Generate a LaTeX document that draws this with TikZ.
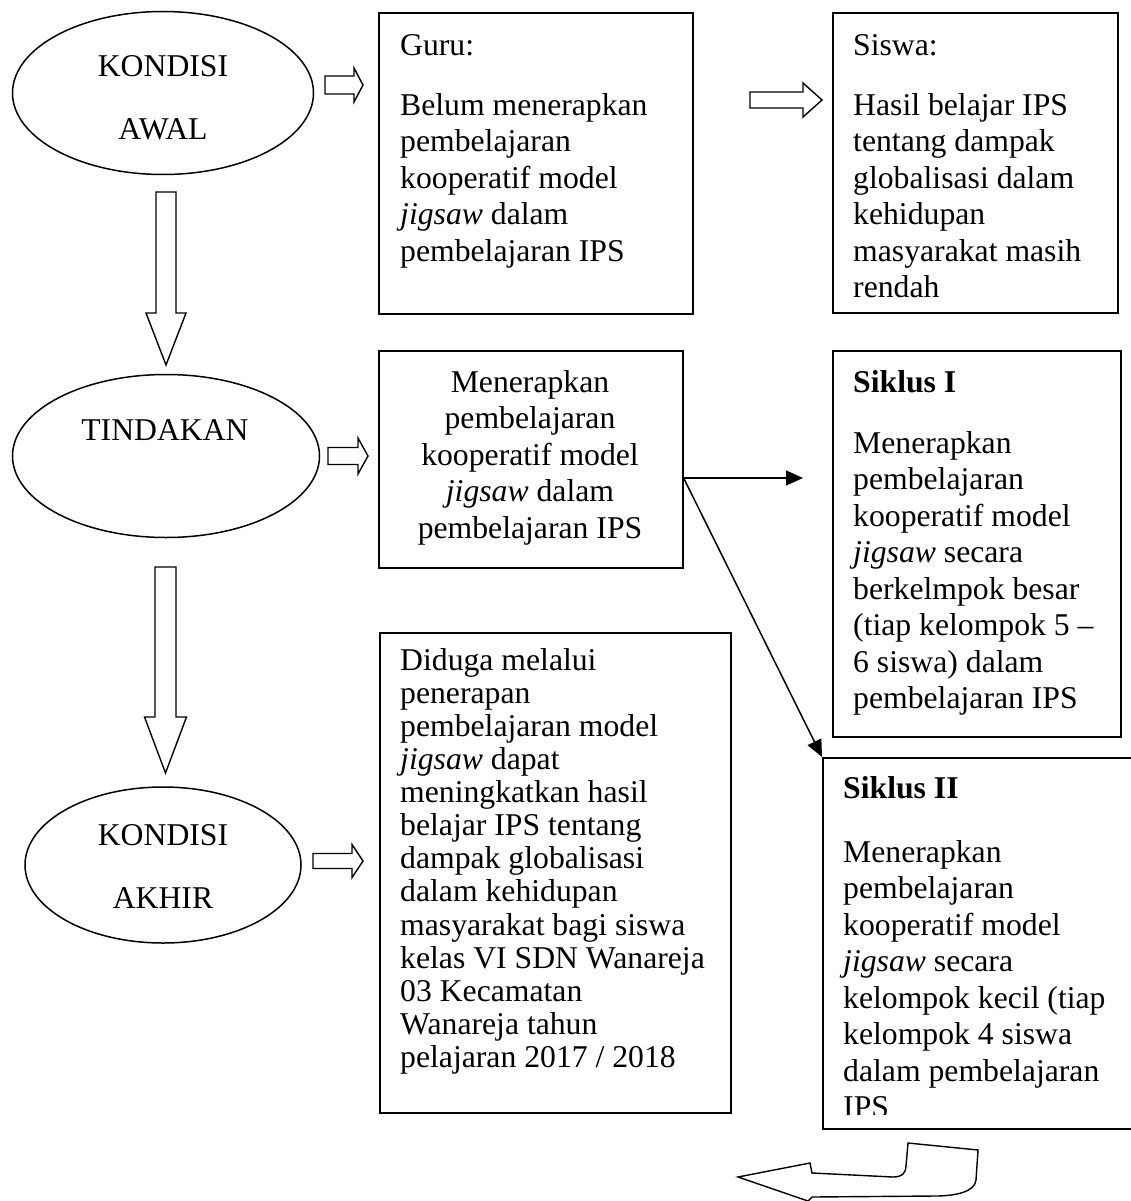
\documentclass[tikz,border=0pt]{standalone}
\usepackage{fontspec}
\setmainfont{Liberation Serif}
\usetikzlibrary{arrows.meta,shapes.geometric}
\newcommand{\rblk}[6]{% x0, tip x, head start x, y centre, shaft half, head half
  \draw[blk] (#1,#4-#5) -- (#3,#4-#5) -- (#3,#4-#6) -- (#2,#4) -- (#3,#4+#6) -- (#3,#4+#5) -- (#1,#4+#5) -- cycle;}
\newcommand{\dblk}[6]{% x centre, y0, tip y, head start y, shaft half, head half
  \draw[blk] (#1-#5,#2) -- (#1+#5,#2) -- (#1+#5,#4) -- (#1+#6,#4) -- (#1,#3) -- (#1-#6,#4) -- (#1-#5,#4) -- cycle;}
\begin{document}
\begin{tikzpicture}[x=1pt,y=-1pt,
  box/.style={draw, line width=1.6pt, anchor=north west, inner sep=0pt},
  oval/.style={draw, ellipse, line width=1.5pt, inner sep=0pt},
  lbl/.style={anchor=base, inner sep=0pt, font=\fontsize{31.7pt}{36.5pt}\selectfont},
  txt/.style={anchor=north west, inner sep=0pt, align=left, font=\fontsize{31.7pt}{36.5pt}\selectfont},
  blk/.style={draw, line width=1.4pt, fill=white, line join=miter},
  link/.style={line width=1.5pt, -{Triangle[length=17pt,width=15pt]}}
]
\fill[white] (0,0) rectangle (1131,1201);
\useasboundingbox (0,0) rectangle (1131,1201);

% ellipses
\node[oval, minimum width=301pt, minimum height=163pt] (awal) at (163,93) {};
\node[lbl] (awal1) at (163,77) {KONDISI};
\node[lbl] (awal2) at (163,140) {AWAL};
\node[oval, minimum width=307pt, minimum height=163pt] (tind) at (166,456) {};
\node[lbl] (tind1) at (165,440) {TINDAKAN};
\node[oval, minimum width=276pt, minimum height=156pt] (akhir) at (163,865) {};
\node[lbl] (akhir1) at (163,845) {KONDISI};
\node[lbl] (akhir2) at (163,908) {AKHIR};

% boxes
\node[box, minimum width=314pt, minimum height=301pt] (guru) at (378,12) {};
\node[box, minimum width=285pt, minimum height=300pt] (siswa) at (832,12) {};
\node[box, minimum width=304pt, minimum height=217pt] (mid) at (378,350) {};
\node[box, minimum width=288pt, minimum height=386pt] (s1) at (832,350) {};
\node[box, minimum width=330pt, minimum height=371pt] (s2) at (822,757) {};
\node[box, minimum width=351pt, minimum height=480pt] (dug) at (379,632) {};

% texts
\node[txt] (gurut) at (400,30) {\rule{0pt}{25pt}Guru:\\[23.5pt]
  Belum menerapkan\\ pembelajaran\\ kooperatif model\\ \textit{jigsaw} dalam\\ pembelajaran IPS};
\node[txt] (siswat) at (853,30) {\rule{0pt}{25pt}Siswa:\\[23.5pt]
  Hasil belajar IPS\\ tentang dampak\\ globalisasi dalam\\ kehidupan\\ masyarakat masih\\ rendah};
\node[txt, anchor=north, align=center] (midt) at (530,367) {\rule{0pt}{25pt}Menerapkan\\ pembelajaran\\ kooperatif model\\ \textit{jigsaw} dalam\\ pembelajaran IPS};
\node[txt] (s1t) at (853,367) {\rule{0pt}{25pt}\textbf{Siklus I}\\[24.5pt]
  Menerapkan\\ pembelajaran\\ kooperatif model\\ \textit{jigsaw} secara\\ berkelmpok besar\\ (tiap kelompok 5 --\\ 6 siswa) dalam\\ pembelajaran IPS};
\begin{scope}
  \clip (800,760) rectangle (1131,1114);
  \node[txt] (s2t) at (843,773) {\rule{0pt}{25pt}\textbf{Siklus II}\\[27.5pt]
    Menerapkan\\ pembelajaran\\ kooperatif model\\ \textit{jigsaw} secara\\ kelompok kecil (tiap\\ kelompok 4 siswa\\ dalam pembelajaran\\ IPS};
\end{scope}
\node[txt, font=\fontsize{31.7pt}{33.1pt}\selectfont] (dugt) at (400,645) {\rule{0pt}{25pt}Diduga melalui\\ penerapan\\ pembelajaran model\\ \textit{jigsaw} dapat\\ meningkatkan hasil\\ belajar IPS tentang\\ dampak globalisasi\\ dalam kehidupan\\ masyarakat bagi siswa\\ kelas VI SDN Wanareja\\ 03 Kecamatan\\ Wanareja tahun\\ pelajaran 2017 / 2018};

% block arrows
\rblk{325}{363}{354}{85}{9}{17}
\rblk{750}{822}{803}{100}{8}{17}
\rblk{328}{368}{358}{456}{8.5}{18}
\rblk{313}{363}{352}{861}{7.5}{16.5}
\dblk{166}{192}{365}{313}{10}{20}
\dblk{165.5}{567}{773}{717}{10.5}{21}

% curved return arrow
\draw[blk] (908,1143) -- (978,1150) -- (976,1180) .. controls (975,1192) and (955,1196) .. (935,1196)
  -- (812,1197) -- (808,1201) -- (738,1177) -- (810,1163) -- (812,1173) -- (893,1177)
  .. controls (903,1177) and (906,1172) .. (906,1166) -- cycle;

% thin connectors
\coordinate (o1) at (0,478);
\coordinate (h1) at (803,478);
\draw[link] (mid.east |- o1) -- (h1);
\draw[link] (mid.east |- o1) -- (s2.north west);
\end{tikzpicture}
\end{document}
